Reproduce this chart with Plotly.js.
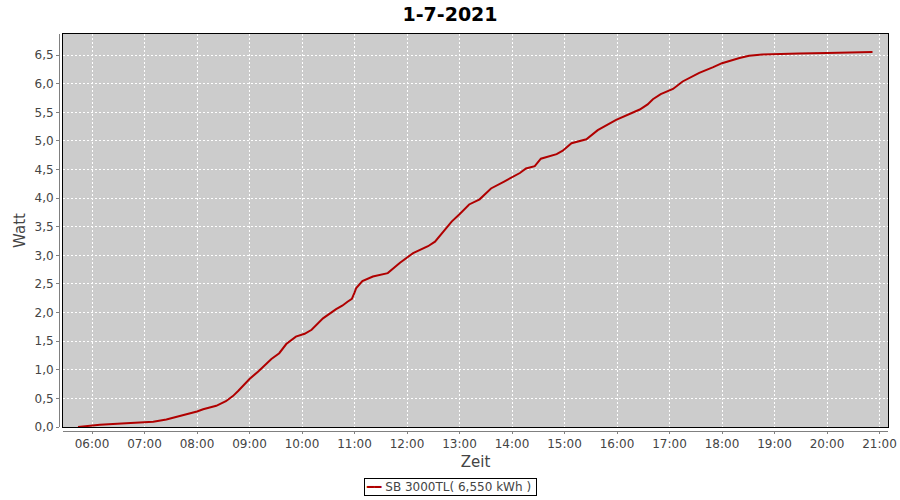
<!DOCTYPE html>
<html>
<head>
<meta charset="utf-8">
<script src="https://cdn.plot.ly/plotly-3.0.1.min.js"></script>
<style>html,body{margin:0;padding:0;background:#fff;}#chart{width:900px;height:500px;}</style>
</head>
<body>
<div id="chart"></div>
<script>
const chartTitle = '1-7-2021';
const seriesName = 'SB 3000TL( 6,550 kWh )';
const day = '2021-07-01';
const times = ['05:44','05:57','06:09','06:39','06:58','07:10','07:25','07:40','07:52','08:00',
  '08:07','08:22','08:33','08:41','08:47','09:00','09:10','09:25','09:34','09:42',
  '09:53','10:03','10:11','10:24','10:39','10:46','10:52','10:57','11:00','11:02',
  '11:09','11:17','11:21','11:38','11:45','11:52','12:07','12:24','12:32','12:40',
  '12:51','13:00','13:11','13:23','13:26','13:36','13:51','14:01','14:09','14:16',
  '14:26','14:33','14:51','14:58','15:08','15:25','15:31','15:38','15:59','16:07',
  '16:26','16:35','16:41','16:50','17:00','17:04','17:15','17:34','17:50','18:00',
  '18:20','18:31','18:46','19:00','19:28','20:00','20:30','20:52'];
const energy = [0.00,0.02,0.04,0.065,0.08,0.09,0.13,0.19,0.23,0.27,
  0.31,0.37,0.45,0.54,0.63,0.84,0.97,1.19,1.29,1.45,
  1.58,1.63,1.70,1.90,2.06,2.12,2.19,2.24,2.35,2.43,
  2.55,2.60,2.63,2.69,2.78,2.87,3.04,3.16,3.24,3.39,
  3.59,3.72,3.89,3.98,4.02,4.17,4.29,4.38,4.44,4.52,
  4.56,4.69,4.77,4.83,4.96,5.03,5.10,5.19,5.37,5.42,
  5.55,5.64,5.73,5.82,5.88,5.91,6.04,6.19,6.29,6.36,
  6.45,6.49,6.51,6.52,6.53,6.54,6.555,6.555];
const xTitle = 'Zeit';
const yTitle = 'Watt';

const lineColor = '#b00000';
const x = times.map(t => day + ' ' + t);
const xRange = [day + ' 05:26:51', day + ' 21:09:43'];
const yRange = [0, 6.87];
const font = 'DejaVu Sans, Verdana, sans-serif';
const gray = '#808080';
const txt = '#444444';

const traces = [
  {x: x, y: energy, type: 'scatter', mode: 'lines', name: seriesName,
   line: {color: lineColor, width: 2}, xaxis: 'x', yaxis: 'y'},
  {x: x, y: energy, type: 'scatter', mode: 'lines', showlegend: false, hoverinfo: 'skip',
   line: {color: 'rgba(0,0,0,0)', width: 0}, xaxis: 'x2', yaxis: 'y2'}
];

const layout = {
  width: 900, height: 500,
  margin: {l: 59, r: 12, t: 34, b: 69},
  paper_bgcolor: '#ffffff', plot_bgcolor: '#cccccc',
  separators: ',.',
  font: {family: font, size: 12, color: txt},
  title: {text: '<b>' + chartTitle + '</b>', font: {family: font, size: 19, color: '#000'},
          x: 0.5, xref: 'container', xanchor: 'center', y: 0.972, yref: 'container', yanchor: 'middle'},
  showlegend: false,
  annotations: [{
    text: '<span style="color:' + lineColor + '">━━</span> ' + seriesName + '\u00a0',
    xref: 'paper', yref: 'paper', x: 0.4717, y: -0.1423, xanchor: 'center', yanchor: 'middle',
    showarrow: false, bordercolor: '#000', borderwidth: 1, borderpad: 1, bgcolor: '#fff',
    font: {family: font, size: 12, color: txt}
  }],
  xaxis: {type: 'date', range: xRange, domain: [4/829, 1], showgrid: true, gridcolor: '#ffffff',
          griddash: '2px,2px', gridwidth: 1, tick0: day + ' 06:00', dtick: 3600000,
          showticklabels: false, ticks: '', zeroline: false, showline: true, mirror: true,
          linecolor: '#000', linewidth: 1, fixedrange: true},
  yaxis: {range: yRange, domain: [4/397, 1], showgrid: true, gridcolor: '#ffffff', griddash: '2px,2px',
          gridwidth: 1, dtick: 0.5, tick0: 0, showticklabels: false, ticks: '', zeroline: false,
          showline: true, mirror: true, linecolor: '#000', linewidth: 1, fixedrange: true},
  xaxis2: {type: 'date', overlaying: 'x', anchor: 'free', position: 0, range: xRange,
           showgrid: false, zeroline: false, showline: true, linecolor: gray, linewidth: 1,
           ticks: 'outside', ticklen: 2, tickcolor: gray, tickwidth: 1,
           tick0: day + ' 06:00', dtick: 3600000, tickformat: '%H:%M', tickangle: 0,
           tickfont: {family: font, size: 12, color: txt},
           title: {text: xTitle, font: {family: font, size: 15, color: txt}, standoff: 6}},
  yaxis2: {overlaying: 'y', anchor: 'free', position: 0, side: 'left', range: yRange,
           showgrid: false, zeroline: false, showline: true, linecolor: gray, linewidth: 1,
           ticks: 'outside', ticklen: 3, tickcolor: gray, tickwidth: 1,
           dtick: 0.5, tick0: 0, tickformat: '.1f',
           tickfont: {family: font, size: 12, color: txt},
           title: {text: yTitle, font: {family: font, size: 15, color: txt}, standoff: 4}}
};

Plotly.newPlot('chart', traces, layout, {displayModeBar: false, staticPlot: true});
</script>
</body>
</html>
